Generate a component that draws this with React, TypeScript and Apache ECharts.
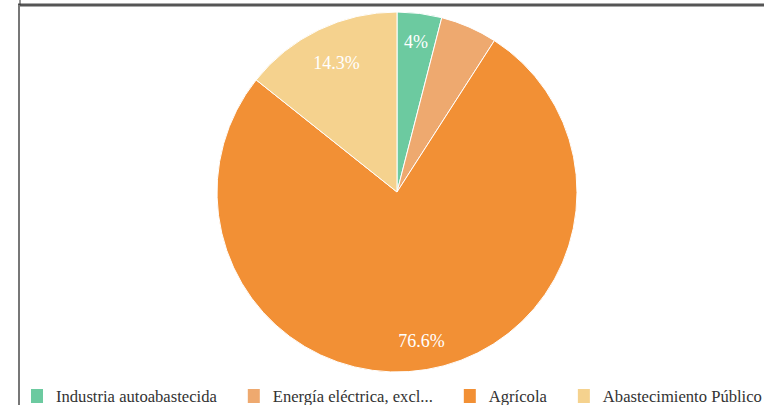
import React, { useEffect, useRef } from "react";
import * as echarts from "echarts";

const categories = [
  "Industria autoabastecida",
  "Energía eléctrica, excluyendo hidroelectricidad",
  "Agrícola",
  "Abastecimiento Público",
];
const values = [4, 5.1, 76.6, 14.3];
const showLabel = [true, false, true, true];
const colors = ["#6ccaa0", "#eea96f", "#f29035", "#f5d28e"];

export default function App() {
  const ref = useRef<HTMLDivElement>(null);
  useEffect(() => {
    if (!ref.current) return;
    const chart = echarts.init(ref.current, null, { renderer: "svg" });
    const serif = "'Liberation Serif', 'Times New Roman', serif";
    chart.setOption({
      animation: false,
      color: colors,
      legend: {
        left: 29,
        top: 387,
        width: 760,
        padding: 0,
        itemWidth: 14,
        itemHeight: 16,
        itemGap: 29,
        icon: "rect",
        formatter: (name: string) => (name.length > 26 ? name.slice(0, 23) + "..." : name),
        textStyle: {
          fontFamily: serif,
          fontSize: 16.6,
          lineHeight: 18,
          color: "#333",
          padding: [0, 0, 0, 7],
        },
        data: categories,
      },
      graphic: [
        { type: "line", shape: { x1: 18, y1: 5, x2: 764, y2: 5 }, style: { stroke: "#555", lineWidth: 3 } },
        { type: "line", shape: { x1: 19, y1: 5, x2: 19, y2: 405 }, style: { stroke: "#777", lineWidth: 2 } },
        { type: "line", shape: { x1: 20, y1: 0, x2: 20, y2: 5 }, style: { stroke: "#333", lineWidth: 1 } },
      ],
      series: [
        {
          type: "pie",
          center: [397, 192],
          radius: [0, 180],
          startAngle: 90,
          clockwise: true,
          label: { show: false },
          labelLine: { show: false },
          itemStyle: { borderColor: "#fff", borderWidth: 1 },
          data: categories.map((n, i) => ({ name: n, value: values[i] })),
        },
        {
          type: "pie",
          center: [397, 192],
          radius: [116, 180],
          startAngle: 90,
          clockwise: true,
          silent: true,
          legendHoverLink: false,
          itemStyle: { color: "rgba(0,0,0,0)" },
          label: {
            show: true,
            position: "inside",
            color: "#fff",
            fontFamily: serif,
            fontSize: 18,
            formatter: (p: any) => p.value + "%",
          },
          labelLayout: (p: any) => (p.dataIndex === 3 ? { dx: 5, dy: 7 } : {}),
          labelLine: { show: false },
          data: categories.map((n, i) => ({
            name: n,
            value: values[i],
            label: { show: showLabel[i] },
          })),
        },
      ],
    });
    return () => chart.dispose();
  }, []);
  return (
    <div style={{ position: "fixed", left: 0, top: 0, width: 764, height: 405, background: "#fff" }}>
      <div ref={ref} style={{ width: 764, height: 405 }} />
    </div>
  );
}
